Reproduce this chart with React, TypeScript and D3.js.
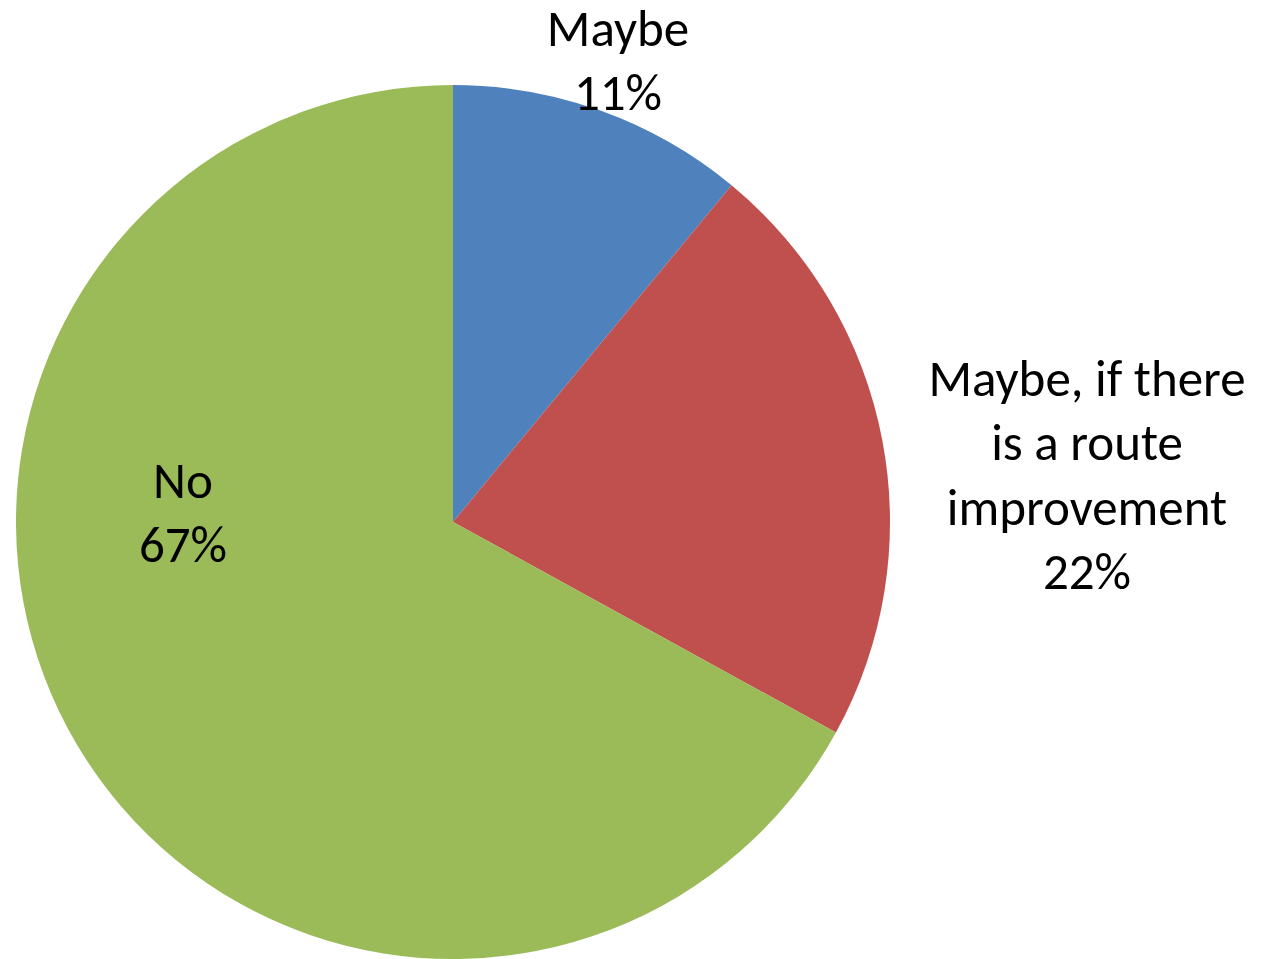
import React from "react";
import * as d3 from "d3";

const categories = ["Maybe", "Maybe, if there is a route improvement", "No"];
const values = [11, 22, 67];
const labelLines = [["Maybe", "11%"], ["Maybe, if there", "is a route", "improvement", "22%"], ["No", "67%"]];
const colors = ["#4F81BD", "#C0504D", "#9BBB59"];

// label anchor positions (center x, first baseline y), chart layout only
const labelLayout = [
  { x: 618, y: 46 },
  { x: 1087, y: 396 },
  { x: 183, y: 498 },
];

export default function App() {
  const W = 1266, H = 959;
  const cx = 453, cy = 522, r = 437;
  const pie = d3.pie<number>().sort(null).value((d) => d);
  const arcs = pie(values);
  const arc = d3.arc<d3.PieArcDatum<number>>().innerRadius(0).outerRadius(r);
  const lineH = 64.3;
  return (
    <svg width={W} height={H} style={{ position: "absolute", left: 0, top: 0 }}>
      <rect width={W} height={H} fill="#fff" />
      <g transform={`translate(${cx},${cy})`}>
        {arcs.map((a, i) => (
          <path key={categories[i]} d={arc(a) || ""} fill={colors[i]} />
        ))}
      </g>
      {labelLines.map((lines, i) => (
        <text key={i} textAnchor="middle" fontFamily="Carlito, Calibri, Lato, sans-serif" fontSize={51} fill="#000">
          {lines.map((l, j) => (
            <tspan key={j} x={labelLayout[i].x} y={labelLayout[i].y + j * lineH}>{l}</tspan>
          ))}
        </text>
      ))}
    </svg>
  );
}
